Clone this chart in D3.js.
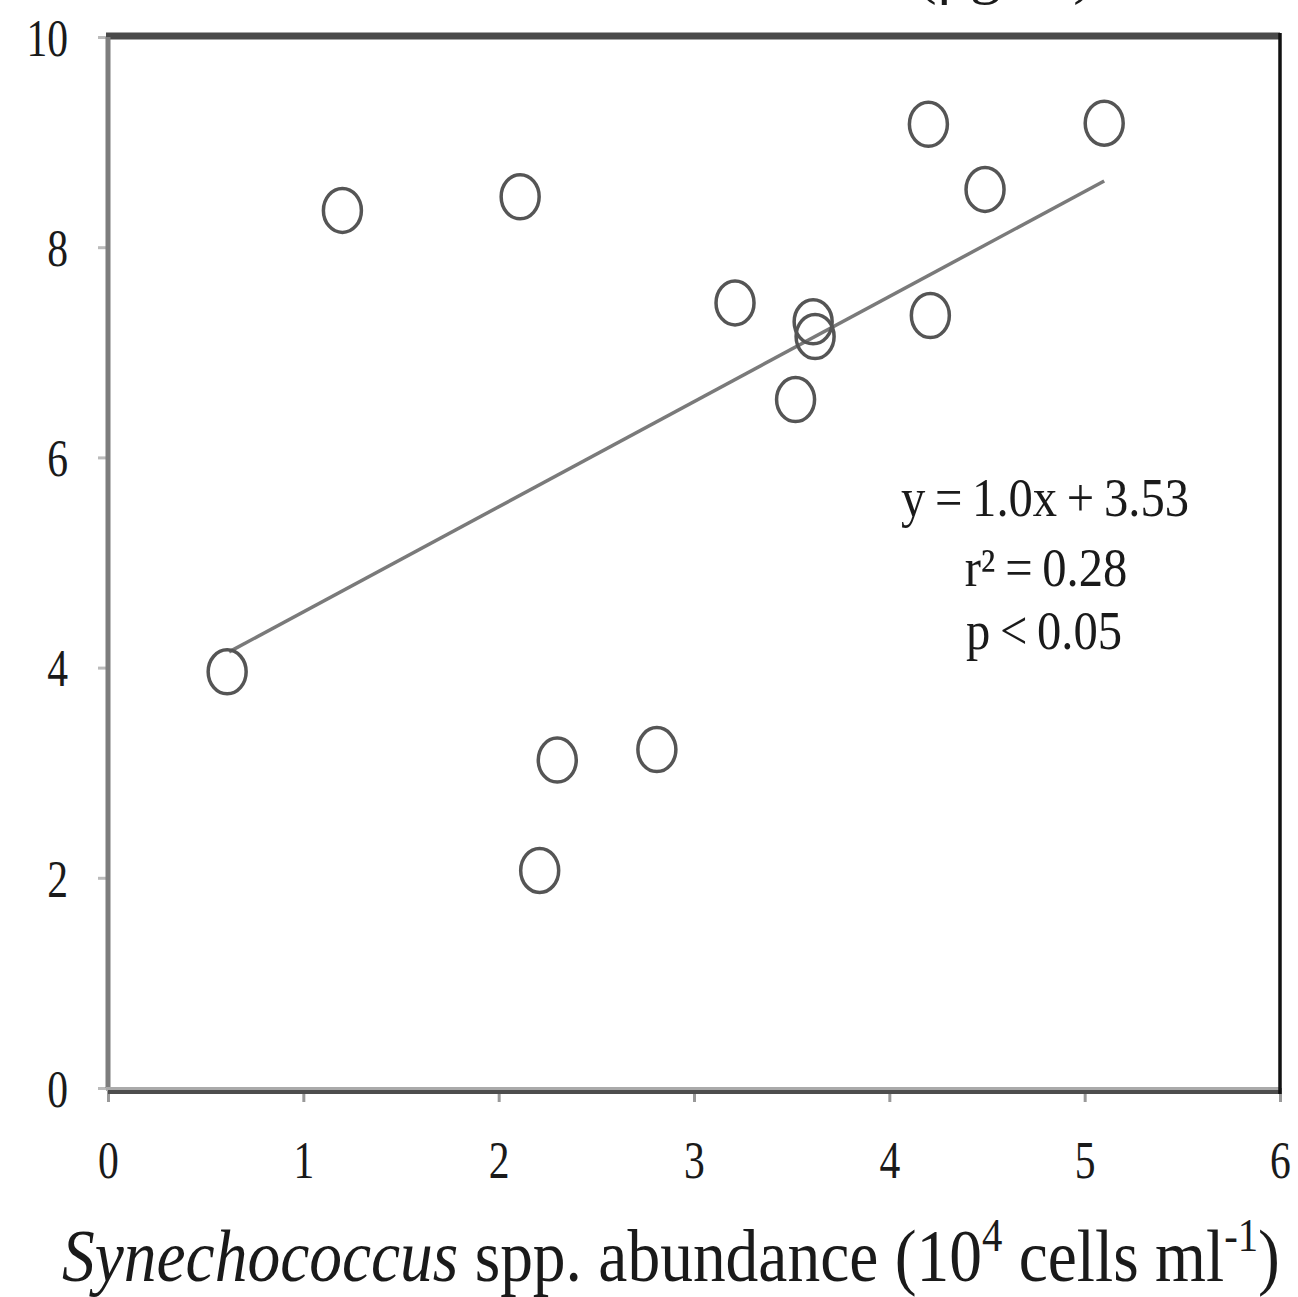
<!DOCTYPE html>
<html lang="en">
<head>
<meta charset="utf-8">
<title>Synechococcus scatter</title>
<script src="https://cdn.jsdelivr.net/npm/d3@7"></script>
<style>
  body { margin: 0; background: #fff; }
  text { font-family: "Liberation Serif", "Times New Roman", serif; fill: #1a1a1a; }
</style>
</head>
<body>
<div id="bod"></div>
<script>
// abundance (10^4 cells/ml) vs response
const xVals = [0.61, 1.20, 2.11, 2.30, 2.21, 2.81, 3.21, 3.61, 3.62, 3.52, 4.20, 4.49, 4.21, 5.10];
const yVals = [3.96, 8.35, 8.48, 3.12, 2.07, 3.22, 7.47, 7.29, 7.15, 6.55, 9.17, 8.55, 7.35, 9.18];
const xTicks = [0, 1, 2, 3, 4, 5, 6];
const yTicks = [0, 2, 4, 6, 8, 10];
const fitSlope = 1.0, fitIntercept = 3.53;
const fitRange = [0.62, 5.1];
const statLines = ["y\u2009=\u20091.0x\u2009+\u20093.53", "r\u00b2\u2009=\u20090.28", "p\u2009<\u20090.05"];

const W = 1298, H = 1297;
const margin = {top: 37, right: 18, bottom: 209, left: 108};

const svg = d3.select("#bod").append("svg")
  .attr("width", W).attr("height", H);

const x = d3.scaleLinear().domain([0, 6]).range([margin.left, W - margin.right]);
const y = d3.scaleLinear().domain([0, 10]).range([H - margin.bottom, margin.top]);

// cut-off title above the frame (only its bottom edge shows)
svg.append("text")
  .attr("x", 1005).attr("y", -8)
  .attr("text-anchor", "middle")
  .attr("font-size", 62)
  .text("(\u03bcg l\u207b\u00b9)");

// y axis ticks + labels
const yAxis = d3.axisLeft(y).tickValues(yTicks).tickSize(10).tickFormat(d3.format("d"));
const gy = svg.append("g").attr("transform", `translate(${margin.left},0)`).call(yAxis);
gy.select(".domain").remove();
gy.selectAll(".tick line").attr("stroke", "#bbb").attr("stroke-width", 3);
gy.selectAll(".tick text")
  .attr("font-size", 52)
  .attr("x", 0).attr("dy", "0.35em")
  .attr("transform", "translate(-40,0) scale(0.8,1)")
  .attr("text-anchor", "end")
  .style("fill", "#1a1a1a");

// x axis ticks + labels
const xAxis = d3.axisBottom(x).tickValues(xTicks).tickSize(14).tickFormat(d3.format("d"));
const gx = svg.append("g").attr("transform", `translate(0,${y(0)})`).call(xAxis);
gx.select(".domain").remove();
gx.selectAll(".tick line").attr("stroke", "#999").attr("stroke-width", 3);
gx.selectAll(".tick text")
  .attr("font-size", 52)
  .attr("y", 0).attr("dy", 0)
  .attr("transform", "translate(0,90) scale(0.8,1)")
  .style("fill", "#1a1a1a");

// frame
const x0 = x(0), x1 = x(6), y0 = y(0), y1 = y(10);
svg.append("line").attr("x1", x0 - 2).attr("x2", x1).attr("y1", y1 - 1).attr("y2", y1 - 1)
  .attr("stroke", "#4a4a4a").attr("stroke-width", 7);
svg.append("line").attr("x1", x0).attr("x2", x0).attr("y1", y1).attr("y2", y0)
  .attr("stroke", "#7d7d7d").attr("stroke-width", 5);
svg.append("line").attr("x1", x0 - 2).attr("x2", x1).attr("y1", y0 + 1).attr("y2", y0 + 1)
  .attr("stroke", "#aaa").attr("stroke-width", 4);
svg.append("line").attr("x1", x0).attr("x2", x1).attr("y1", y0 + 4).attr("y2", y0 + 4)
  .attr("stroke", "#4d4d4d").attr("stroke-width", 4);
svg.append("line").attr("x1", x1).attr("x2", x1).attr("y1", y1 - 4).attr("y2", y0 + 6)
  .attr("stroke", "#111").attr("stroke-width", 3.5);

// fitted line
const fit = fitRange.map(v => [v, fitSlope * v + fitIntercept]);
svg.append("path")
  .datum(fit)
  .attr("fill", "none")
  .attr("stroke", "#7a7a7a")
  .attr("stroke-width", 3.5)
  .attr("d", d3.line().x(d => x(d[0])).y(d => y(d[1])));

// points
svg.append("g").selectAll("ellipse")
  .data(xVals.map((v, i) => [v, yVals[i]]))
  .join("ellipse")
  .attr("cx", d => x(d[0]))
  .attr("cy", d => y(d[1]))
  .attr("rx", 19)
  .attr("ry", 22)
  .attr("fill", "none")
  .attr("stroke", "#555")
  .attr("stroke-width", 3.5);

// stats
const stats = svg.append("g");
const statPos = [[1045, 516], [1046, 586], [1044, 649]];
statLines.forEach((s, i) => {
  stats.append("text")
    .attr("transform", `translate(${statPos[i][0]},${statPos[i][1]}) scale(0.9,1)`)
    .attr("text-anchor", "middle")
    .attr("font-size", 54)
    .text(s);
});

// x title
const title = svg.append("text")
  .attr("transform", "translate(62,1281) scale(0.885,1)")
  .attr("font-size", 74);
title.append("tspan").attr("font-style", "italic").text("Synechococcus");
title.append("tspan").text(" spp. abundance (10");
title.append("tspan").attr("font-size", 46).attr("dy", -30).text("4");
title.append("tspan").attr("dy", 30).text(" cells ml");
title.append("tspan").attr("font-size", 46).attr("dy", -30).text("-1");
title.append("tspan").attr("dy", 30).text(")");
</script>
</body>
</html>
